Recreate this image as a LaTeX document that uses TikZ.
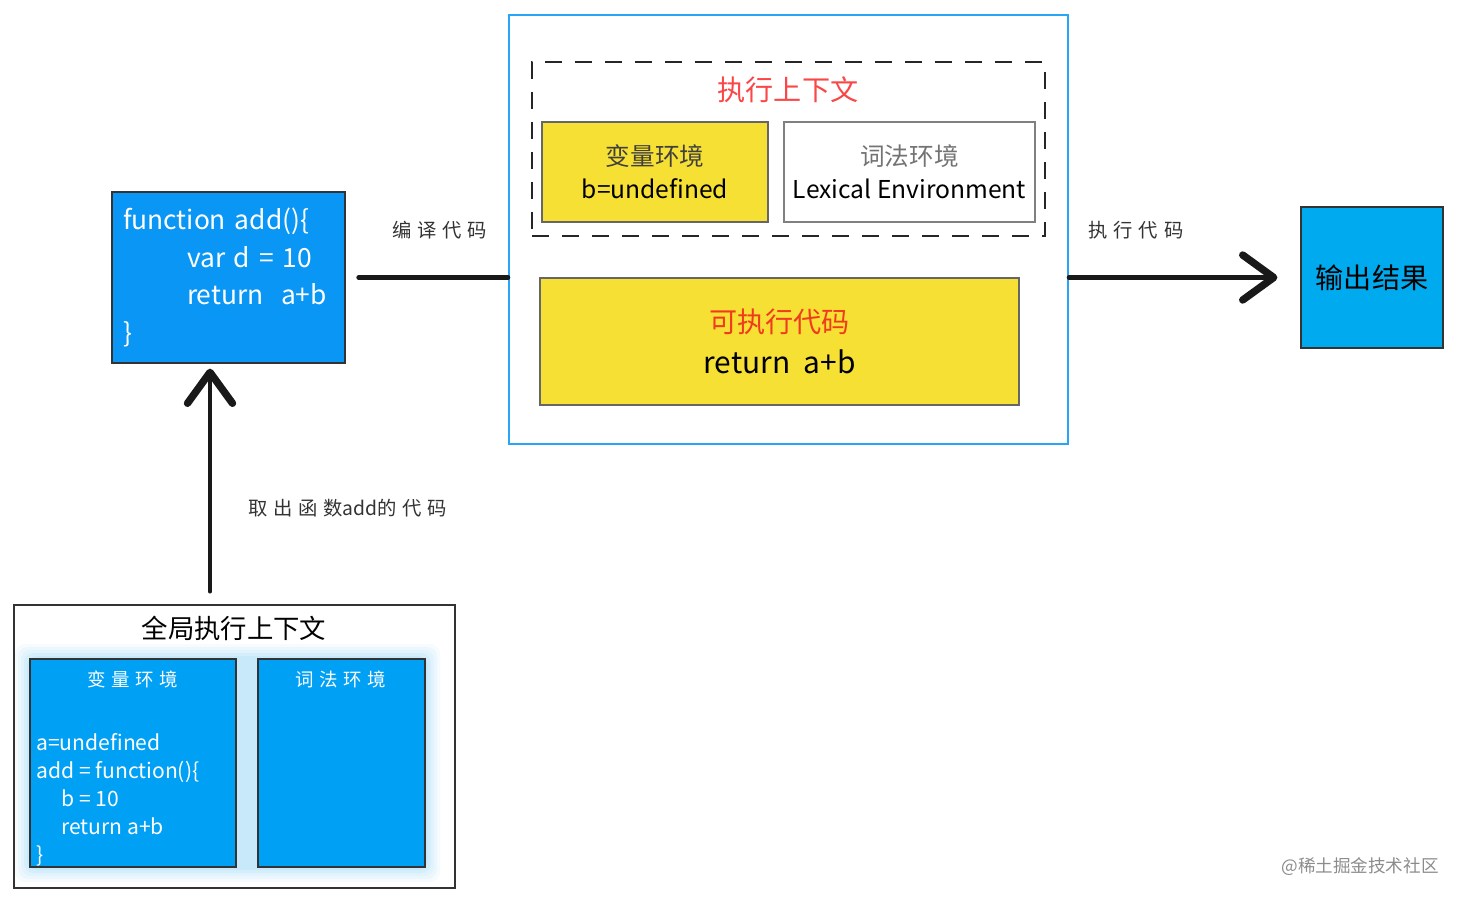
\documentclass[tikz,border=0pt]{standalone}
\usepackage{fontspec}
\setmainfont{Noto Sans CJK SC}
\newfontfamily\widecjk{Noto Sans CJK SC}[LetterSpace=30]
\usetikzlibrary{positioning,arrows.meta}
\definecolor{codeblue}{RGB}{10,150,245}
\definecolor{outblue}{RGB}{0,170,238}
\definecolor{envblue}{RGB}{0,160,245}
\definecolor{codeyellow}{RGB}{247,224,52}
\definecolor{framecol}{RGB}{40,165,245}
\definecolor{ctxred}{RGB}{250,70,70}
\definecolor{execred}{RGB}{240,60,30}
\definecolor{halo}{RGB}{150,215,250}

\begin{document}
\begin{tikzpicture}[
  bluebox/.style={draw=black!80,line width=0.7pt,fill=codeblue,text=white,inner sep=0pt},
  yellowbox/.style={draw=black!60,line width=0.6pt,fill=codeyellow,align=center},
  whitebox/.style={draw=black!50,line width=0.6pt,fill=white,align=center},
  steplbl/.style={font=\widecjk\fontsize{11}{13}\selectfont,text=black!80},
  flow/.style={line width=2.6pt,black!90,line cap=round},
  chevron/.style={-{Straight Barb[length=6.2mm,width=9mm,line width=4.2pt,round]}}
]
  \useasboundingbox (0,0) rectangle (29.3,-18.04);

  % compile stage
  \node[draw=framecol,line width=1.1pt,minimum width=11.18cm,minimum height=8.58cm] (frame) at (15.77,-4.59) {};
  \node[draw=black!85,line width=1.3pt,dash pattern=on 0.34cm off 0.26cm,
    minimum width=10.26cm,minimum height=3.48cm] (ctx) at (15.77,-2.98) {};
  \node[text=ctxred,font=\fontsize{16}{18}\selectfont] (ctxtitle) at (15.76,-1.80) {执行上下文};
  \node[yellowbox,minimum width=4.52cm,minimum height=2cm,font=\fontsize{14}{18.7}\selectfont]
    (varenv) at (13.10,-3.44) {{\color{black!75}变量环境}\\b=undefined};
  \node[whitebox,minimum width=5.02cm,minimum height=2cm,font=\fontsize{14}{18.7}\selectfont]
    (lexenv) at (18.19,-3.44) {{\color{black!55}词法环境}\\Lexical Environment};
  \node[yellowbox,minimum width=9.58cm,minimum height=2.54cm,font=\fontsize{17}{23}\selectfont]
    (exec) at (15.59,-6.83) {{\color{execred}\fontsize{16}{23}\selectfont 可执行代码}\\return\ \ a+b};

  \node[bluebox,minimum width=4.66cm,minimum height=3.42cm,text width=4.22cm,align=left,
    font=\fontsize{15}{21.5}\selectfont] (fn) at (4.57,-5.55)
    {function add()\{\\\hspace*{1.28cm}var d = 10\\\hspace*{1.28cm}return\ \ a+b\\\}};
  \node[bluebox,fill=outblue,text=black,minimum width=2.84cm,minimum height=2.82cm,
    font=\fontsize{16}{18}\selectfont] (out) at (27.44,-5.55) {输出结果};

  % global context
  \node[draw=black!80,line width=0.8pt,fill=white,minimum width=8.82cm,minimum height=5.66cm]
    (global) at (4.69,-14.93) {};
  \node[font=\fontsize{15}{18}\selectfont] (gtitle) at (4.68,-12.56) {全局执行上下文};
  \coordinate (gnw) at (0.60,-13.18);
  \coordinate (gse) at (8.50,-17.34);
  \foreach \d/\o in {0.3/0.08,0.24/0.1,0.18/0.12,0.12/0.15,0.06/0.2}
    \fill[halo,opacity=\o,rounded corners=0.2cm] ([shift={(-\d,\d)}]gnw) rectangle ([shift={(\d,-\d)}]gse);
  \node[bluebox,fill=envblue,minimum width=4.12cm,minimum height=4.16cm] (gvar) at (2.66,-15.26) {};
  \node[bluebox,fill=envblue,minimum width=3.34cm,minimum height=4.16cm] (glex) at (6.83,-15.26) {};
  \node[text=white,font=\widecjk\fontsize{10.5}{12}\selectfont] (gvart) at (2.66,-13.58) {变量环境};
  \node[text=white,font=\widecjk\fontsize{10.5}{12}\selectfont] (glext) at (6.82,-13.58) {词法环境};
  \node[text=white,align=left,anchor=north west,inner sep=0pt,font=\fontsize{12}{16}\selectfont]
    (gcode) at (0.72,-14.66)
    {a=undefined\\add = function()\{\\\hspace*{0.5cm}b = 10\\\hspace*{0.5cm}return a+b\\\}};

  % connectors
  \coordinate (upx) at (4.2,0);
  \draw[flow,shorten <=0.26cm] (fn.east) -- (fn.east -| frame.west)
    node[steplbl,pos=0.58,above=0.6cm] (compile) {编译代码};
  \draw[flow,chevron,shorten >=0.46cm] (frame.east |- out.west) -- (out.west)
    node[steplbl,pos=0.29,above=0.6cm] (run) {执行代码};
  \draw[flow,chevron,shorten <=0.26cm,shorten >=0.1cm] (global.north -| upx) -- (fn.south -| upx)
    node[steplbl,pos=0.4,right=0.6cm] (fetch) {取出函数{\rmfamily add}的代码};

  \node[text=black!45,font=\fontsize{10}{12}\selectfont] (mark) at (27.2,-17.34) {@稀土掘金技术社区};
\end{tikzpicture}
\end{document}
